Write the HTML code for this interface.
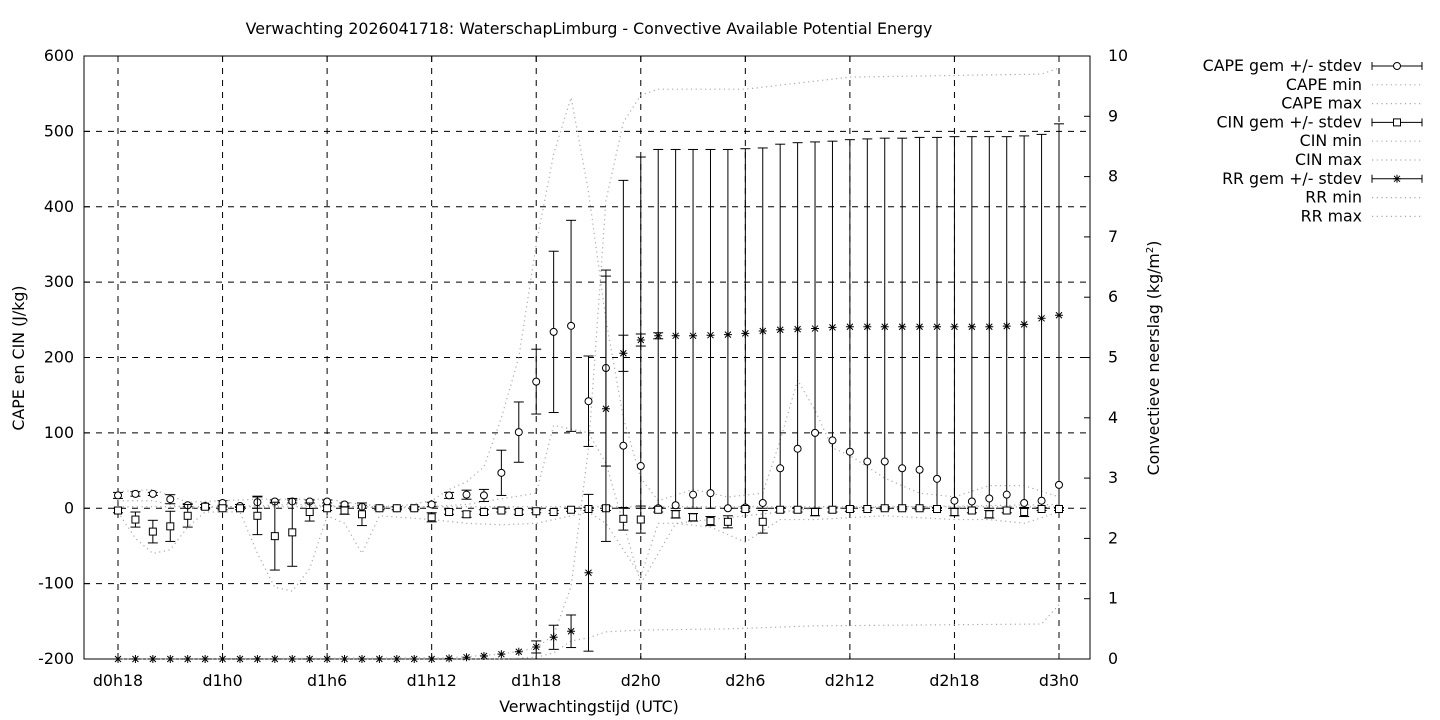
<!DOCTYPE html>
<html><head><meta charset="utf-8"><style>
body{margin:0;background:#fff}
svg{display:block;font-family:"DejaVu Sans","Liberation Sans",sans-serif}
</style></head><body>
<svg id="s" width="1440" height="720" xmlns="http://www.w3.org/2000/svg"></svg>
<script>
const s=document.getElementById('s');let h='';
const FS=15.8;
const X0=84,X1=1090,Y0=56,Y1=659;
const xi=i=>118+i*(1059-118)/54;
const yl=v=>Y0+(600-v)*(Y1-Y0)/800;
const yr=v=>Y1-v*(Y1-Y0)/10;
for(let k=0;k<10;k++){const x=118+k*(1059-118)/9;h+=`<line x1="${x}" y1="${Y0}" x2="${x}" y2="${Y1}" stroke="#000" stroke-dasharray="6,6"/>`;
h+=`<text x="${x}" y="686" font-size="${FS}" text-anchor="middle">${['d0h18','d1h0','d1h6','d1h12','d1h18','d2h0','d2h6','d2h12','d2h18','d3h0'][k]}</text>`;
h+=`<line x1="${x}" y1="${Y1}" x2="${x}" y2="${Y1-6}" stroke="#000"/><line x1="${x}" y1="${Y0}" x2="${x}" y2="${Y0+6}" stroke="#000"/>`;}
for(let v=-200;v<=600;v+=100){const y=yl(v);if(v>-200&&v<600)h+=`<line x1="${X0}" y1="${y}" x2="${X1}" y2="${y}" stroke="#000" stroke-dasharray="6,6"/>`;
h+=`<line x1="${X0}" y1="${y}" x2="${X0+6}" y2="${y}" stroke="#000"/><text x="${X0-10}" y="${y+5}" font-size="${FS}" text-anchor="end">${v}</text>`;}
for(let v=0;v<=10;v++){const y=yr(v);h+=`<line x1="${X1-6}" y1="${y}" x2="${X1}" y2="${y}" stroke="#000"/><text x="${X1+18}" y="${y+5}" font-size="${FS}">${v}</text>`;}
h+=`<rect x="${X0}" y="${Y0}" width="${X1-X0}" height="${Y1-Y0}" fill="none" stroke="#000"/>`;
const dot=(pts,f)=>{h+=`<polyline fill="none" stroke="#aaa" stroke-width="1.2" stroke-dasharray="1.2,3.5" points="${pts.map(p=>xi(p[0])+','+f(p[1])).join(' ')}"/>`;};
dot([[0,22],[2,25],[4,8],[6,10],[8,12],[10,12],[12,12],[14,5],[16,2],[18,10],[19,25],[20,35],[21,55],[22,120],[23,200],[24,350],[25,470],[26,545],[27,420],[28,250],[29,120],[30,40],[31,10],[33,25],[35,15],[37,20],[38,90],[39,170],[40,130],[41,80],[42,70],[44,40],[46,20],[48,15],[50,30],[52,30],[54,15]],yl);
dot([[0,10],[2,10],[4,0],[10,5],[16,0],[20,5],[24,20],[25,110],[27,100],[28,60],[29,-20],[30,-100],[31,-60],[32,-20],[40,0],[54,5]],yl);
dot([[0,-5],[1,-40],[2,-60],[3,-55],[4,-25],[5,-5],[7,-5],[8,-60],[9,-105],[10,-110],[11,-80],[12,-10],[13,-20],[14,-60],[15,-10],[18,-15],[20,-20],[22,-22],[24,-20],[26,-10],[27,-5],[28,-20],[29,-55],[30,-90],[31,-20],[32,-20],[34,-25],[35,-35],[36,-45],[37,-30],[38,-15],[40,-15],[44,-10],[48,-15],[50,-15],[52,-20],[54,-5]],yl);
dot([[0,2],[54,2]],yl);
dot([[0,0],[19,0.02],[22,0.08],[24,0.18],[25,0.4],[26,1.2],[27,3.5],[28,7.6],[29,8.9],[30,9.35],[31,9.45],[36,9.45],[39,9.55],[42,9.65],[53,9.7],[54,9.8]],yr);
dot([[0,0],[22,0],[24,0.03],[25,0.1],[26,0.3],[27,0.35],[28,0.45],[30,0.48],[35,0.5],[40,0.55],[53,0.58],[54,0.9]],yr);
const cm=[17,19,19,12,4,3,7,3,8,9,9,9,9,5,2,0,0,0,5,17,18,17,47,101,168,234,242,142,186,83,56,0,4,18,20,0,1,7,53,79,100,90,75,62,62,53,51,39,10,9,13,18,7,10,31];
const cs=[4,3,2,6,2,2,3,2,8,2,2,2,2,2,2,2,2,2,3,4,6,8,30,40,43,107,140,60,130,350,410,476,472,458,456,476,476,476,430,45,20,8,12,2,2,2,2,2,5,8,5,10,8,8,15];
const ctop=[0,0,0,0,0,0,0,0,0,0,0,0,0,0,0,0,0,0,0,0,0,0,0,0,0,0,0,0,0,435,466,476,476,476,476,476,477,478,483,485,486,487,489,490,491,491,492,492,493,493,493,493,494,496,506];
const bar=(x,a,b)=>{h+=`<line x1="${x}" y1="${a}" x2="${x}" y2="${b}" stroke="#000"/><line x1="${x-5}" y1="${a}" x2="${x+5}" y2="${a}" stroke="#000"/><line x1="${x-5}" y1="${b}" x2="${x+5}" y2="${b}" stroke="#000"/>`;};
for(let i=0;i<55;i++){const x=xi(i);let t=ctop[i]||cm[i]+cs[i];if(i==54)t=510;let b=ctop[i]?0:Math.max(cm[i]-cs[i],-5);
bar(x,yl(t),yl(b));h+=`<circle cx="${x}" cy="${yl(cm[i])}" r="3.5" fill="#fff" stroke="#000"/>`;}
const nm=[-3,-15,-31,-24,-10,2,0,0,-10,-37,-32,-5,0,-3,-8,0,0,0,-12,-5,-8,-5,-3,-5,-4,-5,-2,-1,0,-14,-15,-2,-8,-12,-17,-18,-1,-18,-2,-2,-5,-2,-1,-1,0,0,0,-1,-5,-3,-8,-3,-5,-1,-1];
const ns=[3,10,15,20,15,3,2,2,25,45,45,12,3,5,15,2,2,2,6,3,4,3,2,3,2,2,2,2,3,15,18,3,5,5,6,8,3,15,3,3,5,3,3,2,2,2,2,2,5,3,5,3,6,2,2];
for(let i=0;i<55;i++){const x=xi(i);bar(x,yl(nm[i]+ns[i]),yl(nm[i]-ns[i]));const y=yl(nm[i]);h+=`<rect x="${x-3.5}" y="${y-3.5}" width="7" height="7" fill="#fff" stroke="#000"/>`;}
const rm=[0,0,0,0,0,0,0,0,0,0,0,0,0,0,0,0,0,0,0,0.01,0.03,0.05,0.08,0.12,0.2,0.36,0.46,1.43,4.15,5.07,5.29,5.36,5.36,5.36,5.37,5.38,5.4,5.44,5.46,5.47,5.48,5.5,5.51,5.51,5.51,5.51,5.51,5.51,5.51,5.51,5.51,5.52,5.55,5.65,5.7];
const rs=[0,0,0,0,0,0,0,0,0,0,0,0,0,0,0,0,0,0,0,0,0,0,0,0,0.1,0.2,0.27,1.3,2.2,0.3,0.1,0.05,0,0,0,0,0,0,0,0,0,0,0,0,0,0,0,0,0,0,0,0,0,0,0];
const star=(x,y)=>{h+=`<path d="M${x-4},${y}h8M${x},${y-4}v8M${x-3},${y-3}l6,6M${x-3},${y+3}l6,-6" stroke="#000"/>`;};
for(let i=0;i<55;i++){const x=xi(i);if(rs[i])bar(x,yr(rm[i]+rs[i]),yr(Math.max(0,rm[i]-rs[i])));star(x,yr(rm[i]));}
h+=`<text x="589" y="34" font-size="${FS}" text-anchor="middle">Verwachting 2026041718: WaterschapLimburg - Convective Available Potential Energy</text>`;
h+=`<text x="589" y="712" font-size="${FS}" text-anchor="middle">Verwachtingstijd (UTC)</text>`;
h+=`<text transform="translate(24,358) rotate(-90)" font-size="${FS}" text-anchor="middle">CAPE en CIN (J/kg)</text>`;
h+=`<text transform="translate(1159,358) rotate(-90)" font-size="${FS}" text-anchor="middle">Convectieve neerslag (kg/m<tspan font-size="10" dy="-6">2</tspan><tspan dy="6">)</tspan></text>`;
const L=['CAPE gem +/- stdev','CAPE min','CAPE max','CIN gem +/- stdev','CIN min','CIN max','RR gem +/- stdev','RR min','RR max'];
L.forEach((t,k)=>{const y=66+k*18.8;h+=`<text x="1362" y="${y+5}" font-size="${FS}" text-anchor="end">${t}</text>`;
if(k%3==0){h+=`<line x1="1372" y1="${y}" x2="1422" y2="${y}" stroke="#000"/><line x1="1372" y1="${y-4}" x2="1372" y2="${y+4}" stroke="#000"/><line x1="1422" y1="${y-4}" x2="1422" y2="${y+4}" stroke="#000"/>`;
if(k==0)h+=`<circle cx="1397" cy="${y}" r="3.5" fill="#fff" stroke="#000"/>`;else if(k==3)h+=`<rect x="1393.5" y="${y-3.5}" width="7" height="7" fill="#fff" stroke="#000"/>`;else star(1397,y);}
else h+=`<line x1="1372" y1="${y}" x2="1422" y2="${y}" stroke="#aaa" stroke-width="1.2" stroke-dasharray="1.2,3.5"/>`;});
s.innerHTML=h;
</script>
</body></html>
